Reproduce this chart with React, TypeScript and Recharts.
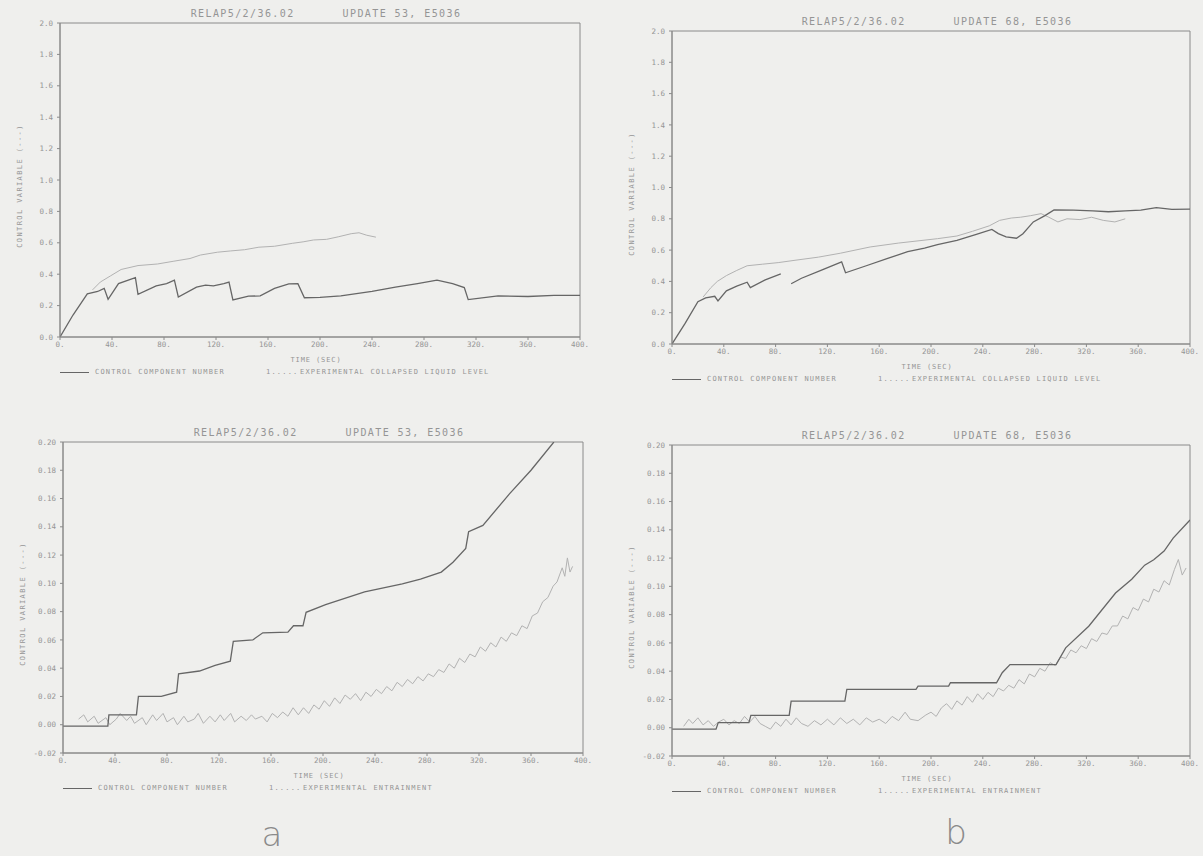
import { LineChart, Line, XAxis, YAxis, ReferenceArea } from 'recharts';

// shared axes
const timeTicks = [0, 40, 80, 120, 160, 200, 240, 280, 320, 360, 400];
const levelTicks = [0, 0.2, 0.4, 0.6, 0.8, 1.0, 1.2, 1.4, 1.6, 1.8, 2.0];
const entrainTicks = [-0.02, 0, 0.02, 0.04, 0.06, 0.08, 0.1, 0.12, 0.14, 0.16, 0.18, 0.2];

type Pt = [number, number | null];

// (a) collapsed liquid level, update 53
const levelCalcA: Pt[] = [
  [0, 0], [10, 0.14], [21, 0.275], [29, 0.29], [34, 0.31], [37, 0.24], [45, 0.34], [52, 0.36],
  [58, 0.378], [60, 0.272], [74, 0.325], [82, 0.34], [88, 0.362], [91, 0.255], [105, 0.318],
  [112, 0.33], [118, 0.326], [126, 0.34], [130, 0.35], [133, 0.236], [145, 0.26], [154, 0.262],
  [165, 0.31], [176, 0.338], [183, 0.34], [188, 0.25], [200, 0.252], [216, 0.262], [240, 0.29],
  [258, 0.318], [275, 0.34], [290, 0.362], [302, 0.34], [311, 0.315], [314, 0.238], [337, 0.262],
  [360, 0.258], [380, 0.265], [400, 0.265],
];
const levelExpA: Pt[] = [
  [25, 0.3], [31, 0.35], [39, 0.39], [47, 0.43], [60, 0.455], [75, 0.465], [87, 0.482],
  [100, 0.5], [108, 0.522], [121, 0.54], [131, 0.548], [142, 0.556], [153, 0.572], [165, 0.578],
  [179, 0.597], [187, 0.606], [195, 0.618], [205, 0.622], [214, 0.638], [224, 0.658], [230, 0.664],
  [236, 0.648], [243, 0.636],
];

// (b) collapsed liquid level, update 68
const levelCalcB: Pt[] = [
  [0, 0], [10, 0.13], [20, 0.27], [26, 0.295], [33, 0.305], [35.5, 0.275], [42, 0.34], [50, 0.37],
  [58, 0.395], [60.5, 0.36], [72, 0.41], [84, 0.448], [88, null], [92, 0.385], [100, 0.42],
  [115, 0.47], [131, 0.525], [134, 0.455], [150, 0.5], [166, 0.545], [182, 0.59], [195, 0.612],
  [205, 0.635], [220, 0.662], [235, 0.7], [247, 0.732], [252, 0.705], [258, 0.684], [266, 0.676],
  [271, 0.705], [279, 0.78], [288, 0.82], [295, 0.857], [310, 0.855], [325, 0.85], [337, 0.845],
  [350, 0.85], [362, 0.856], [374, 0.872], [386, 0.86], [400, 0.862],
];
const levelExpB: Pt[] = [
  [24, 0.3], [30, 0.36], [35, 0.4], [42, 0.437], [50, 0.47], [58, 0.5], [70, 0.51], [82, 0.52],
  [95, 0.535], [113, 0.555], [130, 0.58], [153, 0.62], [175, 0.645], [205, 0.673], [220, 0.69],
  [232, 0.72], [245, 0.755], [253, 0.79], [262, 0.805], [269, 0.81], [277, 0.82], [285, 0.833],
  [291, 0.81], [298, 0.78], [305, 0.8], [315, 0.795], [324, 0.81], [333, 0.79], [342, 0.78],
  [350, 0.8],
];

// (a) entrainment, update 53
const entrainCalcA: Pt[] = [
  [0, -0.001], [34.5, -0.001], [35.3, 0.007], [56.5, 0.007], [58, 0.02], [75.6, 0.02],
  [87.4, 0.023], [88.9, 0.036], [105, 0.038], [117, 0.042], [128.7, 0.045], [131, 0.059],
  [146, 0.06], [153.7, 0.065], [173, 0.0655], [177.3, 0.07], [184.6, 0.07], [187, 0.0795],
  [202, 0.085], [232, 0.094], [261, 0.0996], [275, 0.103], [291, 0.108], [300, 0.115],
  [309.8, 0.1247], [312, 0.1365], [323, 0.141], [343.6, 0.1635], [360, 0.18], [377.6, 0.2],
];
const entrainExpA: Pt[] = [
  [12, 0.004], [16, 0.007], [19, 0.002], [24, 0.006], [27, 0.001], [33, 0.005], [36, 0.0],
  [41, 0.004], [44, 0.008], [49, 0.003], [52, 0.006], [55, 0.001], [61, 0.005], [64, 0.0],
  [69, 0.007], [72, 0.003], [77, 0.008], [80, 0.002], [85, 0.005], [88, 0.0], [93, 0.006],
  [96, 0.002], [101, 0.004], [104, 0.008], [108, 0.001], [113, 0.006], [117, 0.002], [121, 0.007],
  [124, 0.003], [129, 0.008], [132, 0.002], [137, 0.006], [141, 0.003], [145, 0.007], [148, 0.004],
  [153, 0.006], [157, 0.002], [161, 0.008], [165, 0.005], [169, 0.009], [173, 0.006], [177, 0.012],
  [181, 0.007], [185, 0.012], [189, 0.008], [193, 0.014], [197, 0.011], [201, 0.017], [205, 0.013],
  [209, 0.019], [213, 0.015], [217, 0.021], [221, 0.018], [225, 0.022], [229, 0.017], [233, 0.023],
  [237, 0.02], [241, 0.025], [245, 0.022], [249, 0.027], [253, 0.024], [257, 0.03], [261, 0.027],
  [265, 0.032], [269, 0.029], [273, 0.034], [277, 0.031], [281, 0.036], [285, 0.034], [289, 0.039],
  [293, 0.037], [297, 0.043], [301, 0.04], [305, 0.047], [309, 0.044], [313, 0.05], [317, 0.048],
  [321, 0.055], [325, 0.052], [329, 0.058], [333, 0.055], [337, 0.062], [341, 0.059], [345, 0.065],
  [349, 0.063], [353, 0.07], [357, 0.068], [361, 0.077], [365, 0.079], [369, 0.087], [373, 0.09],
  [377, 0.098], [380, 0.101], [384, 0.111], [386, 0.105], [388, 0.118], [390, 0.108], [392, 0.112],
];

// (b) entrainment, update 68
const entrainCalcB: Pt[] = [
  [0, -0.001], [34, -0.001], [35.7, 0.0036], [59.4, 0.0036], [60.9, 0.0087], [90.5, 0.0087],
  [92, 0.0188], [133.5, 0.0188], [135, 0.0271], [188.4, 0.0271], [190, 0.0294], [213.6, 0.0294],
  [215, 0.0318], [250.6, 0.0318], [255, 0.0389], [261, 0.0447], [296.6, 0.0447], [304, 0.0565],
  [321.8, 0.0718], [342.5, 0.0953], [355, 0.105], [365, 0.115], [372, 0.1188], [380, 0.125],
  [387, 0.1341], [400, 0.147],
];
const entrainExpB: Pt[] = [
  [9, 0.001], [13, 0.006], [16, 0.003], [20, 0.007], [24, 0.002], [28, 0.005], [32, 0.001],
  [36, 0.004], [40, 0.006], [44, 0.002], [48, 0.005], [52, 0.003], [56, 0.008], [60, 0.004],
  [64, 0.008], [68, 0.003], [72, 0.001], [76, -0.001], [80, 0.004], [84, 0.001], [88, 0.006],
  [92, 0.002], [96, 0.007], [100, 0.003], [105, 0.001], [110, 0.005], [115, 0.002], [120, 0.006],
  [125, 0.002], [130, 0.007], [135, 0.003], [140, 0.006], [145, 0.002], [150, 0.007], [155, 0.004],
  [160, 0.006], [165, 0.003], [170, 0.008], [175, 0.005], [180, 0.011], [184, 0.006], [190, 0.005],
  [196, 0.009], [200, 0.011], [204, 0.008], [208, 0.014], [212, 0.017], [216, 0.013], [220, 0.019],
  [224, 0.016], [228, 0.022], [232, 0.018], [236, 0.024], [240, 0.02], [244, 0.025], [248, 0.022],
  [252, 0.028], [256, 0.026], [260, 0.03], [264, 0.028], [268, 0.034], [272, 0.031], [276, 0.038],
  [280, 0.036], [284, 0.042], [288, 0.04], [292, 0.046], [296, 0.044], [300, 0.05], [304, 0.049],
  [308, 0.055], [312, 0.053], [316, 0.058], [320, 0.056], [324, 0.063], [328, 0.061], [332, 0.067],
  [336, 0.066], [340, 0.072], [344, 0.072], [348, 0.079], [352, 0.077], [356, 0.085], [360, 0.083],
  [364, 0.091], [368, 0.089], [372, 0.098], [376, 0.096], [380, 0.104], [384, 0.101], [388, 0.112],
  [391, 0.119], [394, 0.108], [397, 0.113],
];

const toRows = (pts: Pt[]) => pts.map(([t, v]) => ({ t, v }));

const BG = '#efefed';
const INK = '#666666';
const FAINT = '#b2b2b2';
const FRAME = '#8a8a8a';
const TEXT = '#959595';
const MONO = "'DejaVu Sans Mono', 'Liberation Mono', monospace";

const Txt = ({ x, y, children, size = 7, spacing = 1.2, anchor = 'left', style = {} }: any) => (
  <div
    style={{
      position: 'absolute',
      left: x,
      top: y,
      transform: `translate(${anchor === 'center' ? '-50%' : '0'}, -50%)`,
      fontFamily: MONO,
      fontSize: size,
      letterSpacing: spacing,
      color: TEXT,
      whiteSpace: 'nowrap',
      lineHeight: 1,
      ...style,
    }}
  >
    {children}
  </div>
);

type Box = { l: number; r: number; t: number; b: number };

const Panel = ({ box, yDomain, yTicks, yDigits, calc, exp, update, expName }: any) => {
  const { l, r, t, b } = box as Box;
  const w = r - l;
  const h = b - t;
  const cx = (l + r) / 2;
  const tickStyle = { fill: TEXT, fontSize: 7.5, fontFamily: MONO };
  return (
    <>
      <div style={{ position: 'absolute', left: l - 60, top: t - 10 }}>
        <LineChart width={w + 70} height={h + 30} margin={{ top: 10, right: 10, bottom: 0, left: 0 }}>
          <XAxis
            dataKey="t"
            type="number"
            domain={[0, 400]}
            ticks={timeTicks}
            allowDataOverflow
            tickFormatter={(v: number) => `${v}.`}
            height={20}
            tickSize={3}
            tickMargin={2}
            stroke={FRAME}
            tick={tickStyle}
          />
          <YAxis
            type="number"
            domain={yDomain}
            ticks={yTicks}
            allowDataOverflow
            tickFormatter={(v: number) => v.toFixed(yDigits)}
            width={60}
            tickSize={3}
            tickMargin={4}
            stroke={FRAME}
            tick={tickStyle}
          />
          <ReferenceArea
            x1={0}
            x2={400}
            y1={yDomain[0]}
            y2={yDomain[1]}
            fill="none"
            stroke={FRAME}
            strokeWidth={1}
            ifOverflow="visible"
          />
          <Line
            data={toRows(exp)}
            dataKey="v"
            type="linear"
            stroke={FAINT}
            strokeWidth={1}
            dot={false}
            isAnimationActive={false}
          />
          <Line
            data={toRows(calc)}
            dataKey="v"
            type="linear"
            stroke={INK}
            strokeWidth={1.3}
            dot={false}
            isAnimationActive={false}
          />
        </LineChart>
      </div>
      <Txt x={cx + 6} y={t - 9} size={10} spacing={1.4} anchor="center">
        RELAP5/2/36.02<span style={{ marginLeft: 48 }}>UPDATE {update}, E5036</span>
      </Txt>
      <Txt x={cx - 4} y={b + 23} size={7} spacing={0.9} anchor="center">
        TIME (SEC)
      </Txt>
      <div
        style={{
          position: 'absolute',
          left: l - 40,
          top: (t + b) / 2 + 6,
          transform: 'translate(-50%, -50%) rotate(-90deg)',
          fontFamily: MONO,
          fontSize: 7,
          letterSpacing: 1.4,
          color: TEXT,
          whiteSpace: 'nowrap',
          lineHeight: 1,
        }}
      >
        CONTROL VARIABLE (---)
      </div>
      <div style={{ position: 'absolute', left: l, top: b + 35, width: 29, borderTop: `1px solid ${INK}` }} />
      <Txt x={l + 35} y={b + 35}>CONTROL COMPONENT NUMBER</Txt>
      <Txt x={l + 206} y={b + 35}>1.....</Txt>
      <Txt x={l + 240} y={b + 35}>{expName}</Txt>
    </>
  );
};

const panelLetter = (x: number, y: number, letter: string) => (
  <div
    style={{
      position: 'absolute',
      left: x,
      top: y,
      transform: 'translate(-50%, -50%)',
      fontFamily: "'DejaVu Sans', sans-serif",
      fontWeight: 200,
      fontSize: 34,
      color: '#8a8a8a',
      lineHeight: 1,
    }}
  >
    {letter}
  </div>
);

export default function App() {
  return (
    <div
      style={{
        position: 'absolute',
        left: 0,
        top: 0,
        width: 1203,
        height: 856,
        background: BG,
        overflow: 'hidden',
      }}
    >
      <Panel
        box={{ l: 60, r: 580, t: 23, b: 337 }}
        yDomain={[0, 2]}
        yTicks={levelTicks}
        yDigits={1}
        calc={levelCalcA}
        exp={levelExpA}
        update={53}
        expName="EXPERIMENTAL COLLAPSED LIQUID LEVEL"
      />
      <Panel
        box={{ l: 672, r: 1190, t: 31, b: 344 }}
        yDomain={[0, 2]}
        yTicks={levelTicks}
        yDigits={1}
        calc={levelCalcB}
        exp={levelExpB}
        update={68}
        expName="EXPERIMENTAL COLLAPSED LIQUID LEVEL"
      />
      <Panel
        box={{ l: 63, r: 583, t: 442, b: 753 }}
        yDomain={[-0.02, 0.2]}
        yTicks={entrainTicks}
        yDigits={2}
        calc={entrainCalcA}
        exp={entrainExpA}
        update={53}
        expName="EXPERIMENTAL ENTRAINMENT"
      />
      <Panel
        box={{ l: 672, r: 1190, t: 445, b: 756 }}
        yDomain={[-0.02, 0.2]}
        yTicks={entrainTicks}
        yDigits={2}
        calc={entrainCalcB}
        exp={entrainExpB}
        update={68}
        expName="EXPERIMENTAL ENTRAINMENT"
      />
      {panelLetter(272, 834, 'a')}
      {panelLetter(956, 832, 'b')}
    </div>
  );
}
